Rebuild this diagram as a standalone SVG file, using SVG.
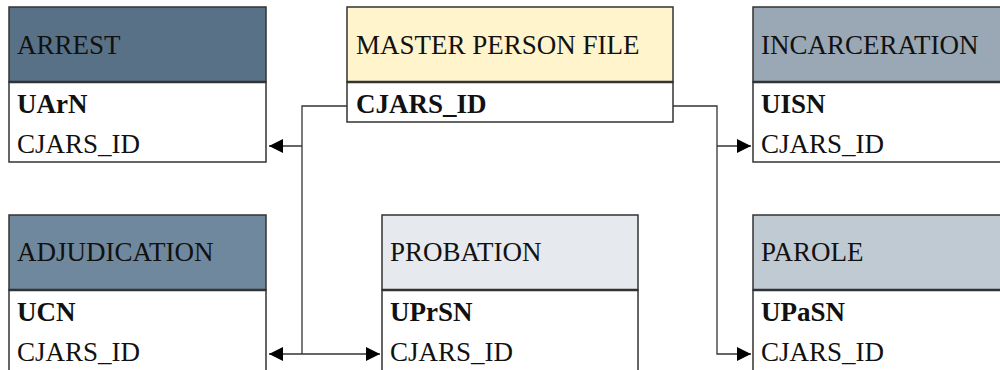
<svg xmlns="http://www.w3.org/2000/svg" width="1000" height="370" viewBox="0 0 1000 370">
<style>
text{font-family:"Liberation Serif","Times New Roman",serif;font-size:27px;fill:#111}
.b{font-weight:bold}
.box{stroke:#333;stroke-width:1.5}
.sep{stroke:#333;stroke-width:2.5}
.body{fill:#fff;stroke:#333;stroke-width:1.5}
.con{fill:none;stroke:#333;stroke-width:1.3}
</style>
<defs>
<marker id="ah" viewBox="0 0 10 10" refX="10" refY="5" markerWidth="14" markerHeight="14" markerUnits="userSpaceOnUse" orient="auto">
<path d="M0,0 L10,5 L0,10 z" fill="#000"/>
</marker>
</defs>
<rect width="1000" height="370" fill="#fff"/>
<g id="arrest">
<rect class="body" x="9" y="82" width="257" height="80"/>
<rect class="box" x="9" y="7" width="257" height="75" fill="#587187"/>
<line class="sep" x1="9" y1="82" x2="266" y2="82"/>
<text x="17" y="54">ARREST</text>
<text class="b" x="17" y="113">UArN</text>
<text x="17" y="153">CJARS_ID</text>
</g>
<g id="master">
<rect class="body" x="347" y="82" width="326" height="40"/>
<rect class="box" x="347" y="7" width="326" height="75" fill="#fff4cc"/>
<line class="sep" x1="347" y1="82" x2="673" y2="82"/>
<text x="356" y="54">MASTER PERSON FILE</text>
<text class="b" x="356" y="113">CJARS_ID</text>
</g>
<g id="incarceration">
<rect class="body" x="753" y="82" width="260" height="80"/>
<rect class="box" x="753" y="7" width="260" height="75" fill="#9aa8b5"/>
<line class="sep" x1="753" y1="82" x2="1000" y2="82"/>
<text x="761" y="54">INCARCERATION</text>
<text class="b" x="761" y="113">UISN</text>
<text x="761" y="153">CJARS_ID</text>
</g>
<g id="adjudication">
<rect class="body" x="9" y="290" width="257" height="90"/>
<rect class="box" x="9" y="215" width="257" height="75" fill="#6f889d"/>
<line class="sep" x1="9" y1="290" x2="266" y2="290"/>
<text x="17" y="261">ADJUDICATION</text>
<text class="b" x="17" y="321">UCN</text>
<text x="17" y="361">CJARS_ID</text>
</g>
<g id="probation">
<rect class="body" x="382" y="290" width="256" height="90"/>
<rect class="box" x="382" y="215" width="256" height="75" fill="#e6e9ed"/>
<line class="sep" x1="382" y1="290" x2="638" y2="290"/>
<text x="390" y="261">PROBATION</text>
<text class="b" x="390" y="321">UPrSN</text>
<text x="390" y="361">CJARS_ID</text>
</g>
<g id="parole">
<rect class="body" x="753" y="290" width="260" height="90"/>
<rect class="box" x="753" y="215" width="260" height="75" fill="#c0cad3"/>
<line class="sep" x1="753" y1="290" x2="1000" y2="290"/>
<text x="761" y="261">PAROLE</text>
<text class="b" x="761" y="321">UPaSN</text>
<text x="761" y="361">CJARS_ID</text>
</g>
<g id="connectors">
<polyline class="con" points="347,106 302,106 302,354"/>
<line class="con" x1="302" y1="146" x2="269" y2="146" marker-end="url(#ah)"/>
<line class="con" x1="302" y1="354" x2="269" y2="354" marker-end="url(#ah)"/>
<line class="con" x1="302" y1="354" x2="380" y2="354" marker-end="url(#ah)"/>
<polyline class="con" points="673,106 717,106 717,354 751,354" marker-end="url(#ah)"/>
<line class="con" x1="717" y1="146" x2="751" y2="146" marker-end="url(#ah)"/>
</g>
</svg>
